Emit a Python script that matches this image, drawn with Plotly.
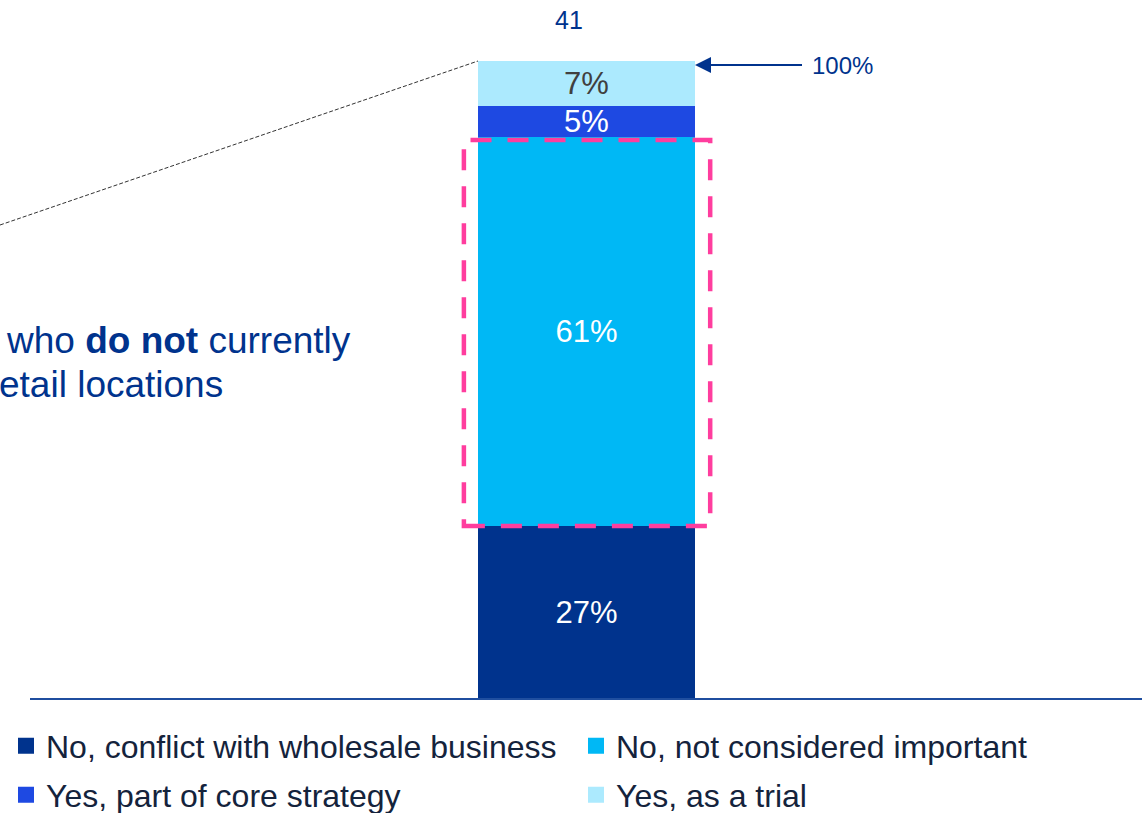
import plotly.graph_objects as go

# Survey answers, stacked bottom to top
categories = ["No, conflict with wholesale business", "No, not considered important",
              "Yes, part of core strategy", "Yes, as a trial"]
shares = [27, 61, 5, 7]
colors = ["#00338D", "#00B8F5", "#1E49E2", "#ACEAFE"]
label_colors = ["white", "white", "white", "#404040"]
sample_size = "41"
total_label = "100%"

FONT = "Arial, Liberation Sans, sans-serif"
NAVY = "#00338D"
PINK = "#FF3D9E"

fig = go.Figure()

for name, val, col, tcol in zip(categories, shares, colors, label_colors):
    fig.add_trace(go.Bar(
        x=[0], y=[val], width=1, name=name, marker_color=col,
        marker_line_width=0, text=[f"{val}%"], textposition="inside",
        insidetextanchor="middle", constraintext="none",
        textfont=dict(family=FONT, size=31, color=tcol),
        showlegend=False, hoverinfo="skip",
    ))

# Legend swatches: one legend per entry, laid out as a 2x2 grid
legend_ids = ["legend", "legend2", "legend3", "legend4"]
legend_pos = [(6, 746), (576, 746), (6, 795), (576, 795)]  # (left px, center px)
for name, col, lid in zip(categories, colors, legend_ids):
    fig.add_trace(go.Scatter(
        x=[None], y=[None], mode="markers", name=name,
        marker=dict(symbol="square", size=17, color=col),
        legend=lid, hoverinfo="skip",
    ))

legend_layout = {}
for lid, (lx, ly) in zip(legend_ids, legend_pos):
    legend_layout[lid] = dict(
        orientation="h", xref="container", yref="container",
        x=lx / 1142, y=1 - ly / 813, xanchor="left", yanchor="middle",
        bgcolor="rgba(0,0,0,0)", traceorder="normal",
        font=dict(family=FONT, size=32, color="#14233C"),
        itemclick=False, itemdoubleclick=False,
    )

fig.update_layout(
    width=1142, height=813,
    margin=dict(l=30, r=0, t=61, b=115),
    plot_bgcolor="white", paper_bgcolor="white",
    barmode="stack", bargap=0,
    xaxis=dict(range=[-2.5645, 2.5599], showline=True, linecolor="#1F4E9F",
               linewidth=2, showticklabels=False, ticks="", showgrid=False,
               zeroline=False, fixedrange=True),
    yaxis=dict(range=[0, 100], visible=False, fixedrange=True),
    showlegend=True,
    **legend_layout,
)

# Highlight box around the "not considered important" segment
fig.add_shape(type="rect", xref="x", yref="y", x0=-0.565, x1=0.57, y0=27, y1=87.6,
              line=dict(color=PINK, width=4.5, dash="21px,16px"),
              fillcolor="rgba(0,0,0,0)", layer="above")

# Thin dashed leader line to the top-left corner of the bar
fig.add_shape(type="line", xref="paper", yref="paper",
              x0=-30 / 1112, y0=(698 - 225) / 637, x1=(478 - 30) / 1112, y1=1.0,
              line=dict(color="#333333", width=1, dash="4px,2px"))

# Sample size above the bar
fig.add_annotation(x=0, y=100, xref="x", yref="y", text=sample_size, showarrow=False,
                   xshift=-18, yshift=41, font=dict(family=FONT, size=25, color=NAVY))

# Arrow pointing at the 100% total
fig.add_annotation(x=0.5, y=100, xref="x", yref="y", text=total_label, showarrow=True,
                   ax=147, ay=0, yshift=-4, arrowhead=2, arrowsize=1.6, arrowwidth=2,
                   arrowcolor=NAVY, startstandoff=8, standoff=0,
                   font=dict(family=FONT, size=24, color=NAVY))

# Side caption
fig.add_annotation(xref="paper", yref="paper", x=(4 - 30) / 1112, y=(698 - 340) / 637,
                   xanchor="left", yanchor="middle", showarrow=False,
                   text="who <b>do not</b> currently",
                   font=dict(family=FONT, size=37, color=NAVY))
fig.add_annotation(xref="paper", yref="paper", x=(-3 - 30) / 1112, y=(698 - 384) / 637,
                   xanchor="left", yanchor="middle", showarrow=False,
                   text="etail locations",
                   font=dict(family=FONT, size=37, color=NAVY))

fig.write_html("out.html")
